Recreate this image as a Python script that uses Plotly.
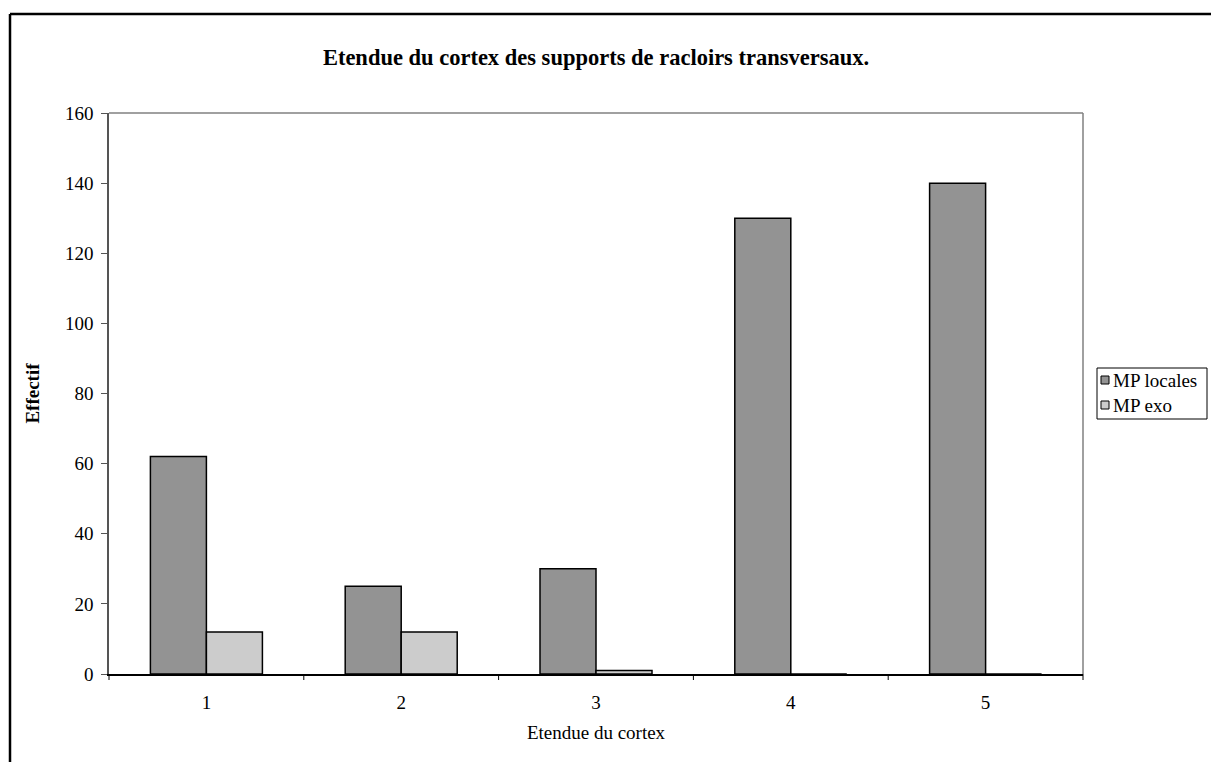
import plotly.graph_objects as go

categories = ["1", "2", "3", "4", "5"]
mp_locales = [62, 25, 30, 130, 140]
mp_exo = [12, 12, 1, 0, 0]
y_ticks = [0, 20, 40, 60, 80, 100, 120, 140, 160]

series_names = ["MP locales", "MP exo"]
series_colors = ["#939393", "#cccccc"]

FONT = "Liberation Serif, Times New Roman, serif"
FS = 19

fig = go.Figure()
for name, vals, col in zip(series_names, [mp_locales, mp_exo], series_colors):
    fig.add_trace(go.Bar(
        x=categories, y=vals, name=name, showlegend=False,
        marker=dict(color=col, line=dict(color="#000000", width=1.5)),
    ))

L, R, T, B = 109, 128, 113, 88
W, H = 1211, 762
pw, ph = W - L - R, H - T - B


def px_x(x):
    return (x - L) / pw


def px_y(y):
    return (H - B - y) / ph


shapes = [
    # plot area frame (top and right)
    dict(type="line", xref="paper", yref="paper", x0=0, x1=1, y0=1, y1=1,
         line=dict(color="#808080", width=1.5)),
    dict(type="line", xref="paper", yref="paper", x0=1, x1=1, y0=0, y1=1,
         line=dict(color="#808080", width=1.5)),
    # outer chart border
    dict(type="line", xref="paper", yref="paper", x0=px_x(10), x1=px_x(1220),
         y0=px_y(14), y1=px_y(14), line=dict(color="#000000", width=2.5)),
    dict(type="line", xref="paper", yref="paper", x0=px_x(10), x1=px_x(10),
         y0=px_y(14), y1=px_y(775), line=dict(color="#000000", width=2.5)),
    # legend box
    dict(type="rect", xref="paper", yref="paper",
         x0=px_x(1097), x1=px_x(1207), y0=px_y(368), y1=px_y(419),
         line=dict(color="#000000", width=1), fillcolor="white"),
]

annotations = []
row_y = [380, 405]
for name, col, ry in zip(series_names, series_colors, row_y):
    shapes.append(dict(type="rect", xref="paper", yref="paper",
                       x0=px_x(1101), x1=px_x(1109),
                       y0=px_y(ry - 4), y1=px_y(ry + 4),
                       line=dict(color="#000000", width=1), fillcolor=col))
    annotations.append(dict(text=name, xref="paper", yref="paper",
                            x=px_x(1111), y=px_y(ry), xanchor="left", yanchor="middle",
                            showarrow=False, font=dict(family=FONT, size=FS, color="#000000")))

# category boundary ticks on the x axis
for i in range(len(categories) + 1):
    shapes.append(dict(type="line", xref="paper", yref="paper",
                       x0=i / len(categories), x1=i / len(categories),
                       y0=0, y1=-6 / ph, line=dict(color="#000000", width=1)))

fig.update_layout(
    width=W, height=H,
    margin=dict(l=L, r=R, t=T, b=B, autoexpand=False),
    paper_bgcolor="white", plot_bgcolor="white",
    barmode="group", bargap=0.425, bargroupgap=0,
    font=dict(family=FONT, size=FS, color="#000000"),
    title=dict(text="<b>Etendue du cortex des supports de racloirs transversaux.</b>",
               x=0.5, xanchor="center", xref="paper",
               y=1 - 57 / H, yanchor="middle",
               font=dict(family=FONT, size=22.5, color="#000000")),
    showlegend=False,
    shapes=shapes,
    annotations=annotations,
    xaxis=dict(
        type="category",
        showline=True, linecolor="#000000", linewidth=1.5,
        ticks="", showgrid=False, zeroline=False,
        ticklabelstandoff=10,
        tickfont=dict(family=FONT, size=FS),
        title=dict(text="Etendue du cortex", font=dict(family=FONT, size=FS), standoff=14),
    ),
    yaxis=dict(
        range=[0, 160], tickvals=y_ticks,
        showline=True, linecolor="#555555", linewidth=1.5,
        ticks="outside", ticklen=6, tickcolor="#555555", tickwidth=1,
        showgrid=False, zeroline=False,
        ticklabelstandoff=4,
        tickfont=dict(family=FONT, size=FS),
        title=dict(text="<b>Effectif</b>", font=dict(family=FONT, size=FS), standoff=20),
    ),
)

fig.write_html("out.html")
